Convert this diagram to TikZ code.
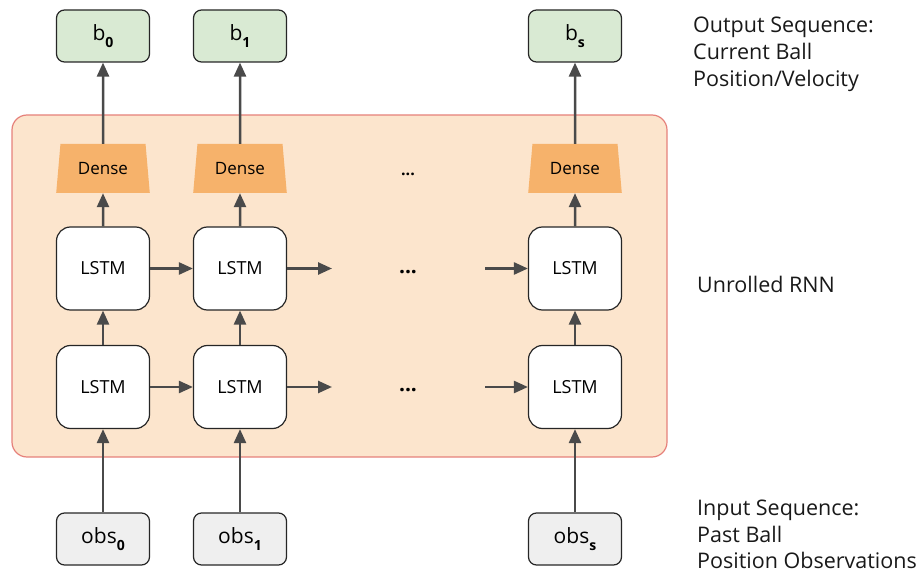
\documentclass[tikz,border=0pt]{standalone}
\usepackage{fontspec}
\setmainfont{Open Sans}
\usetikzlibrary{shapes.geometric,arrows.meta}
\definecolor{bgfill}{HTML}{FCE5CD}
\definecolor{bgedge}{HTML}{E6817B}
\definecolor{outfill}{HTML}{D9EAD3}
\definecolor{obsfill}{HTML}{EFEFEF}
\definecolor{densefill}{HTML}{F6B26B}
\definecolor{arrowcol}{HTML}{4A4A4A}
\definecolor{edgecol}{HTML}{262626}
\newcommand{\mysub}[1]{\raisebox{-6.5pt}{\fontsize{14}{14}\selectfont\bfseries #1}}
\tikzset{
  iobox/.style={draw=edgecol, line width=1.2pt, rounded corners=8pt, minimum width=93pt, minimum height=52pt, inner sep=0pt, font=\fontsize{21}{21}\selectfont},
  outbox/.style={iobox, fill=outfill},
  obsbox/.style={iobox, fill=obsfill},
  lstmbox/.style={draw=edgecol, line width=1.2pt, fill=white, rounded corners=14pt, minimum width=93pt, minimum height=83pt, inner sep=0pt, font=\fontsize{18}{18}\selectfont},
  densebox/.style={trapezium, trapezium stretches=true, trapezium left angle=78.5, trapezium right angle=78.5, fill=densefill, minimum width=94pt, minimum height=49pt, inner sep=0pt, font=\fontsize{17}{17}\selectfont},
  flow/.style={draw=arrowcol, line width=2.5pt, -{Triangle[length=14pt,width=12pt]}},
  dots/.style={font=\fontsize{21}{21}\selectfont\bfseries, inner sep=0pt},
  side/.style={anchor=base west, inner sep=0pt, font=\fontsize{21.5}{21.5}\selectfont, text=black!90}
}
\begin{document}
\begin{tikzpicture}[x=1pt,y=-1pt]
\useasboundingbox (0,0) rectangle (922,572);
% container
\draw[fill=bgfill, draw=bgedge, line width=1.2pt, rounded corners=15pt] (12,115) rectangle (667,457);
% columns
\foreach \i/\x/\s in {1/103/0, 2/240/1, 3/575/s}{
  \node[outbox] (b\i) at (\x,36) {b\mysub{\s}};
  \node[densebox] (d\i) at (\x,168.5) {Dense};
  \node[lstmbox] (u\i) at (\x,268.5) {LSTM};
  \node[lstmbox] (l\i) at (\x,387) {LSTM};
  \node[obsbox] (o\i) at (\x,539) {obs\mysub{\s}};
  \draw[flow] (d\i.north) -- (b\i.south);
  \draw[flow] (u\i.north) -- (d\i.south);
  \draw[flow] (l\i.north) -- (u\i.south);
  \draw[flow] (o\i.north) -- (l\i.south);
}
% horizontal connectors
\coordinate (ua) at (332,268.5);
\coordinate (ub) at (485,268.5);
\coordinate (la) at (332,387);
\coordinate (lb) at (485,387);
\draw[flow] (u1.east) -- (u2.west);
\draw[flow] (u2.east) -- (ua);
\draw[flow] (ub) -- (u3.west);
\draw[flow] (l1.east) -- (l2.west);
\draw[flow] (l2.east) -- (la);
\draw[flow] (lb) -- (l3.west);
% ellipses
\node[dots, font=\fontsize{16}{16}\selectfont\bfseries] (e1) at (408,174) {...};
\node[dots] (e2) at (408,272) {...};
\node[dots] (e3) at (408,390) {...};
% side labels
\node[side] (t1) at (693,33) {Output Sequence:};
\node[side] (t2) at (693,60) {Current Ball};
\node[side] (t3) at (693,87) {Position/Velocity};
\node[side] (t4) at (697,293) {Unrolled RNN};
\node[side] (t5) at (697,515) {Input Sequence:};
\node[side] (t6) at (697,542) {Past Ball};
\node[side] (t7) at (697,568) {Position Observations};
\end{tikzpicture}
\end{document}
